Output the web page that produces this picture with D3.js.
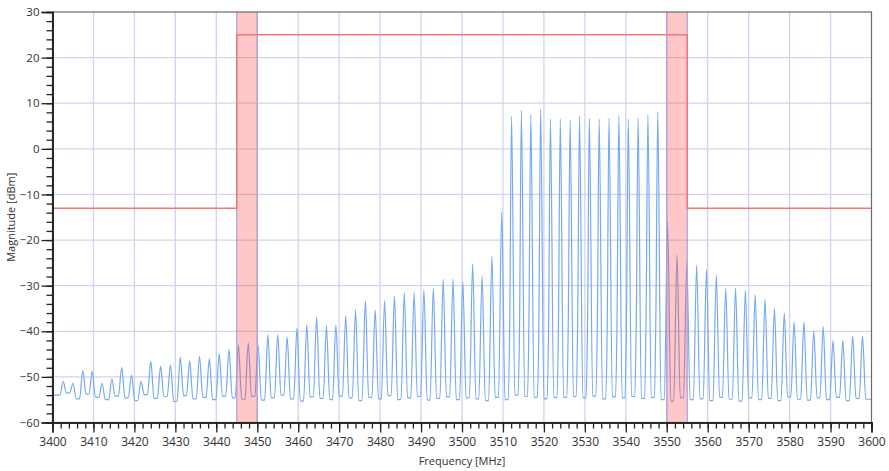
<!DOCTYPE html>
<html><head><meta charset="utf-8">
<script src="https://cdn.jsdelivr.net/npm/d3@7"></script>
<style>
body{margin:0;background:#fff}
svg{display:block}
text{font-family:"Segoe UI","Open Sans","Noto Sans",sans-serif;fill:#333}
</style>
</head><body>
<svg id="c" width="889" height="471"></svg>
<script>
// ---------------- data ----------------
const xMajorTicks = [3400,3410,3420,3430,3440,3450,3460,3470,3480,3490,3500,3510,3520,3530,3540,3550,3560,3570,3580,3590,3600];
const yMajorTicks = [-60,-50,-40,-30,-20,-10,0,10,20,30];

// spectrum: carrier peak frequencies (MHz) and peak levels (dBm)
const peakFreq = [3402.6,3405.0,3407.4,3409.7,3412.1,3414.5,3416.9,3419.3,3421.6,3424.0,
  3426.4,3428.8,3431.2,3433.5,3435.9,3438.3,3440.7,3443.1,3445.4,3447.8,
  3450.2,3452.6,3455.0,3457.3,3459.7,3462.1,3464.5,3466.9,3469.2,3471.6,
  3474.0,3476.4,3478.8,3481.1,3483.5,3485.9,3488.3,3490.7,3493.0,3495.4,
  3497.8,3500.2,3502.6,3504.9,3507.3,3509.7,3512.1,3514.5,3516.8,3519.2,
  3521.6,3524.0,3526.4,3528.7,3531.1,3533.5,3535.9,3538.3,3540.6,3543.0,
  3545.4,3547.8,3550.2,3552.5,3554.9,3557.3,3559.7,3562.1,3564.4,3566.8,
  3569.2,3571.6,3574.0,3576.3,3578.7,3581.1,3583.5,3585.9,3588.2,3590.6,
  3593.0,3595.4,3597.8];
const peakLevel = [-51.0,-51.4,-48.6,-48.8,-51.4,-50.5,-47.9,-49.6,-51.0,-46.6,
  -47.7,-47.4,-45.7,-46.5,-45.5,-46.0,-45.0,-44.0,-43.0,-42.6,
  -43.0,-40.8,-40.8,-41.2,-39.3,-38.6,-36.9,-38.8,-38.6,-36.6,
  -35.3,-33.3,-35.3,-33.3,-32.2,-31.5,-31.5,-30.9,-30.6,-28.6,
  -28.6,-29.1,-25.2,-27.9,-23.6,-13.8,7.1,8.4,7.4,8.7,
  6.5,6.5,6.3,7.1,6.7,6.5,6.7,7.2,6.5,6.7,
  7.4,8.1,-16.0,-23.3,-25.0,-25.5,-26.5,-27.7,-30.5,-30.5,
  -31.0,-32.0,-33.0,-35.0,-36.0,-38.0,-38.0,-40.0,-39.0,-42.0,
  -42.0,-41.0,-41.0];
// noise floor level following each peak (first entry = floor before first peak)
const floorLevel = [-54.0,
  -53.5,-54.8,-53.8,-54.5,-55.0,-54.2,-54.6,-55.2,-53.9,-54.7,
  -54.3,-55.4,-54.1,-54.8,-54.5,-55.0,-54.2,-54.6,-54.9,-54.3,
  -55.1,-54.6,-54.0,-54.8,-55.3,-54.4,-54.7,-55.0,-54.2,-54.6,
  -55.2,-54.5,-54.8,-54.1,-55.0,-54.6,-54.3,-55.1,-54.7,-54.4,
  -55.0,-54.6,-54.8,-55.2,-54.5,-55.0,-54.0,-54.3,-54.5,-54.8,
  -54.5,-54.5,-54.3,-54.6,-54.2,-54.8,-54.4,-54.6,-54.3,-54.7,
  -54.5,-55.0,-55.3,-54.6,-55.0,-54.8,-55.2,-54.5,-54.9,-55.3,
  -54.6,-55.0,-54.7,-55.2,-54.4,-54.9,-55.1,-54.6,-55.0,-54.5,
  -55.2,-54.7,-54.9];
// level of the shoulder on the rising edge of the wide carriers (null = none)
const shoulderLevel = [null,null,null,null,null,null,null,null,null,null,
  null,null,null,null,null,null,null,null,null,null,
  null,null,null,null,null,null,null,null,null,null,
  null,null,null,null,null,null,null,null,null,null,
  null,null,null,null,null,null,-38.5,-39.0,-37.5,-40.0,
  -38.5,-39.0,-38.0,-37.5,-39.0,-38.0,-40.0,-38.5,-39.0,-38.0,
  -37.0,-36.0,null,null,null,null,null,null,null,null,
  null,null,null,null,null,null,null,null,null,null,
  null,null,null];

// emission mask (limit line)
const maskFreq  = [3400, 3445, 3445, 3555, 3555, 3600];
const maskLevel = [-13, -13, 25, 25, -13, -13];
// highlighted transition bands
const bandStart = [3445, 3550];
const bandEnd   = [3450, 3555];

// ---------------- drawing ----------------
const svg = d3.select("#c");
const W = 889, H = 471;
const m = {l: 52.5, r: 17.5, t: 12, b: 48.5};
const x = d3.scaleLinear().domain([3400, 3600]).range([m.l, W - m.r]);
const y = d3.scaleLinear().domain([-60, 30]).range([H - m.b, m.t]);

svg.append("rect").attr("width", W).attr("height", H).attr("fill", "#fff");

svg.append("defs").append("clipPath").attr("id", "clip")
  .append("rect").attr("x", x(3400)).attr("y", y(30))
  .attr("width", x(3600) - x(3400)).attr("height", y(-60) - y(30));

// grid
const grid = svg.append("g").attr("stroke", "#d2d2f2").attr("stroke-width", 1.3);
grid.selectAll("line.v").data(xMajorTicks.slice(1, -1)).join("line")
  .attr("x1", d => x(d)).attr("x2", d => x(d)).attr("y1", y(30)).attr("y2", y(-60));
grid.selectAll("line.h").data(yMajorTicks.slice(1, -1)).join("line")
  .attr("y1", d => y(d)).attr("y2", d => y(d)).attr("x1", x(3400)).attr("x2", x(3600));

// spectrum trace
const w = 0.8;
const pts = [[3400, floorLevel[0]]];
peakFreq.forEach((f, i) => {
  pts.push([f - w, floorLevel[i]]);
  if (shoulderLevel[i] !== null) pts.push([f - 0.45, shoulderLevel[i]]);
  pts.push([f, peakLevel[i]]);
  pts.push([f + w, floorLevel[i + 1]]);
});
pts.push([3600, floorLevel[floorLevel.length - 1]]);
const line = d3.line().x(d => x(d[0])).y(d => y(d[1])).curve(d3.curveMonotoneX);
svg.append("path").attr("clip-path", "url(#clip)").attr("d", line(pts))
  .attr("fill", "none").attr("stroke", "#74aaf2").attr("stroke-width", 1.2);

// bands
const bands = svg.append("g");
bandStart.forEach((s, i) => {
  bands.append("rect").attr("x", x(s)).attr("y", y(30))
    .attr("width", x(bandEnd[i]) - x(s)).attr("height", y(-60) - y(30))
    .attr("fill", "rgba(255,70,70,0.30)");
  [s, bandEnd[i]].forEach(v => bands.append("line")
    .attr("x1", x(v)).attr("x2", x(v)).attr("y1", y(30)).attr("y2", y(-60))
    .attr("stroke", "#a8a0e0").attr("stroke-width", 1.2));
});

// mask
const maskPts = maskFreq.map((f, i) => [f, maskLevel[i]]);
svg.append("path").attr("d", d3.line().x(d => x(d[0])).y(d => y(d[1]))(maskPts))
  .attr("fill", "none").attr("stroke", "#f07878").attr("stroke-width", 1.5);

// frame
svg.append("rect").attr("x", x(3400)).attr("y", y(30))
  .attr("width", x(3600) - x(3400)).attr("height", y(-60) - y(30))
  .attr("fill", "none").attr("stroke", "#6a6a6a").attr("stroke-width", 1.2);

// axes
const yMinor = d3.range(-60, 30.1, 2);
const xMinor = d3.range(3400, 3600.1, 2);
const xAxis = svg.append("g").attr("transform", `translate(0,${y(-60)})`)
  .call(d3.axisBottom(x).tickValues(xMajorTicks).tickFormat(d3.format("d")).tickSize(10).tickPadding(5));
const xAxisMinor = svg.append("g").attr("transform", `translate(0,${y(-60)})`)
  .call(d3.axisBottom(x).tickValues(xMinor).tickFormat("").tickSize(6));
const yAxis = svg.append("g").attr("transform", `translate(${x(3400)},0)`)
  .call(d3.axisLeft(y).tickValues(yMajorTicks).tickFormat(d3.format("d")).tickSize(11).tickPadding(2));
const yAxisMinor = svg.append("g").attr("transform", `translate(${x(3400)},0)`)
  .call(d3.axisLeft(y).tickValues(yMinor).tickFormat("").tickSize(6));
[xAxis, xAxisMinor, yAxis, yAxisMinor].forEach(g => {
  g.selectAll(".domain").attr("stroke", "#222").attr("stroke-width", 1.6);
  g.selectAll(".tick line").attr("stroke", "#222").attr("stroke-width", 1.3);
  g.selectAll("text").attr("font-size", 12).style("fill", "#333");
});
yAxis.selectAll("text").attr("font-size", 11.5);

// titles
svg.append("text").attr("x", (x(3400) + x(3600)) / 2).attr("y", 465)
  .attr("text-anchor", "middle").attr("font-size", 11).text("Frequency [MHz]");
svg.append("text").attr("transform", `translate(15,${(y(30) + y(-60)) / 2}) rotate(-90)`)
  .attr("text-anchor", "middle").attr("font-size", 11).text("Magnitude [dBm]");
</script>
</body></html>
